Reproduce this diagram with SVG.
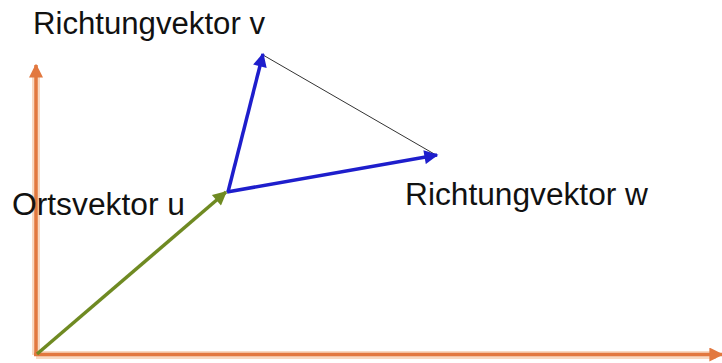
<svg xmlns="http://www.w3.org/2000/svg" width="722" height="363" viewBox="0 0 722 363">
  <defs>
    <style>
      .lbl { font-family: "Liberation Sans", Arial, sans-serif; font-size: 31px; fill: #111; }
      .axis { stroke: #E2783F; stroke-width: 3.5; fill: none; }
      .halo { stroke: #F8D9C2; stroke-width: 8; fill: none; }
      .blue { stroke: #1E1ECC; stroke-width: 3.5; fill: none; }
      .green { stroke: #6F8A22; stroke-width: 3.5; fill: none; }
    </style>
    <marker id="ao" viewBox="0 0 10 10" refX="9" refY="5" markerWidth="4" markerHeight="4" orient="auto" markerUnits="strokeWidth">
      <path d="M0,0 L10,5 L0,10 z" fill="#E2783F"/>
    </marker>
    <marker id="ab" viewBox="0 0 10 10" refX="9" refY="5" markerWidth="4.5" markerHeight="4" orient="auto" markerUnits="strokeWidth">
      <path d="M0,0 L10,5 L0,10 z" fill="#1E1ECC"/>
    </marker>
    <marker id="ag" viewBox="0 0 10 10" refX="9" refY="5" markerWidth="4.5" markerHeight="4" orient="auto" markerUnits="strokeWidth">
      <path d="M0,0 L10,5 L0,10 z" fill="#6F8A22"/>
    </marker>
  </defs>
  <rect width="722" height="363" fill="#ffffff"/>
  <g id="connectors">
    <line class="halo" x1="36" y1="355" x2="36" y2="72"/>
    <line class="halo" x1="36" y1="355" x2="716" y2="355"/>
    <line id="y-axis" class="axis" x1="36" y1="356" x2="36" y2="65" marker-end="url(#ao)"/>
    <line id="x-axis" class="axis" x1="34" y1="354.5" x2="722" y2="354.5" marker-end="url(#ao)"/>
    <line id="edge-vw" x1="263" y1="55" x2="436" y2="155" stroke="#333" stroke-width="1"/>
    <line id="vec-u" class="green" x1="37" y1="354" x2="226" y2="192" marker-end="url(#ag)"/>
    <line id="vec-v" class="blue" x1="228" y1="192" x2="263" y2="54" marker-end="url(#ab)"/>
    <line id="vec-w" class="blue" x1="227" y1="192" x2="437" y2="155" marker-end="url(#ab)"/>
  </g>
  <g id="label-v"><text class="lbl" x="33" y="34" textLength="232" lengthAdjust="spacingAndGlyphs">Richtungvektor v</text></g>
  <g id="label-w"><text class="lbl" x="405" y="205" textLength="243" lengthAdjust="spacingAndGlyphs">Richtungvektor w</text></g>
  <g id="label-u"><text class="lbl" x="12" y="215" textLength="173" lengthAdjust="spacingAndGlyphs">Ortsvektor u</text></g>
</svg>
